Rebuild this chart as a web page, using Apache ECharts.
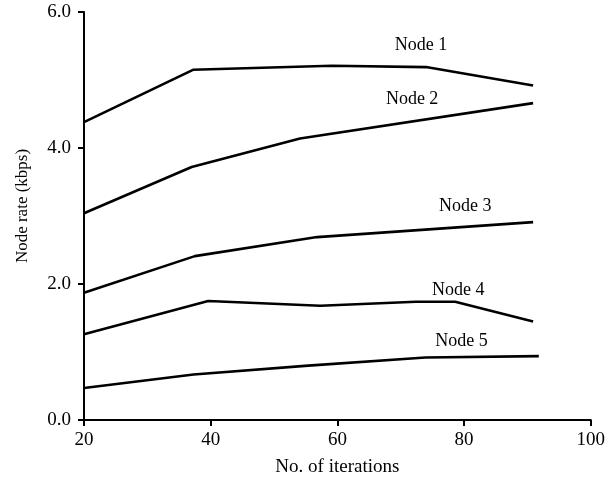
<!DOCTYPE html>
<html>
<head>
<meta charset="utf-8">
<script src="https://cdn.jsdelivr.net/npm/echarts@6/dist/echarts.min.js"></script>
<style>
  html, body { margin: 0; padding: 0; background: #fff; }
  #chart { width: 608px; height: 483px; }
</style>
</head>
<body>
<div id="chart"></div>
<script>
// Node rate per iteration count, one [iterations, kbps] list per node
const node1 = [[20, 4.38], [37.2, 5.15], [59.1, 5.21], [74.0, 5.19], [90.9, 4.92]];
const node2 = [[20, 3.04], [37.0, 3.72], [54.1, 4.14], [90.9, 4.66]];
const node3 = [[20, 1.87], [37.5, 2.41], [56.8, 2.69], [90.9, 2.91]];
const node4 = [[20, 1.26], [39.6, 1.75], [57.3, 1.68], [72.4, 1.74], [78.6, 1.74], [90.9, 1.45]];
const node5 = [[20, 0.47], [37.3, 0.67], [55.4, 0.80], [73.9, 0.92], [91.8, 0.94]];

const nodeNames = ['Node 1', 'Node 2', 'Node 3', 'Node 4', 'Node 5'];
// Where each node's name sits, in data units
const labelAt = [[73.2, 5.51], [71.8, 4.71], [80.2, 3.15], [79.1, 1.91], [79.6, 1.16]];

const xTicks = [20, 40, 60, 80, 100];
const yTicks = [0, 2, 4, 6];

const serif = '"Liberation Serif", "DejaVu Serif", serif';
const allNodes = [node1, node2, node3, node4, node5];

const chart = echarts.init(document.getElementById('chart'));
chart.setOption({
  animation: false,
  backgroundColor: '#fff',
  grid: { left: 84, right: 17, top: 12, bottom: 63 },
  xAxis: {
    type: 'value',
    min: xTicks[0], max: xTicks[xTicks.length - 1], interval: 20,
    name: 'No. of iterations',
    nameLocation: 'middle',
    nameGap: 38,
    nameTextStyle: { fontFamily: serif, fontSize: 19, color: '#000' },
    axisLine: { show: true, lineStyle: { color: '#000', width: 2 } },
    axisTick: { show: true, length: 6, lineStyle: { color: '#000', width: 2 } },
    axisLabel: { fontFamily: serif, fontSize: 19, color: '#000', margin: 11 },
    splitLine: { show: false }
  },
  yAxis: {
    type: 'value',
    min: yTicks[0], max: yTicks[yTicks.length - 1], interval: 2,
    name: 'Node rate (kbps)',
    nameLocation: 'middle',
    nameGap: 53,
    nameTextStyle: { fontFamily: serif, fontSize: 17, color: '#000', padding: [0, 0, 0, 20] },
    axisLine: { show: true, lineStyle: { color: '#000', width: 2 } },
    axisTick: { show: true, length: 6, lineStyle: { color: '#000', width: 2 } },
    axisLabel: {
      fontFamily: serif, fontSize: 19, color: '#000', margin: 13,
      formatter: v => v.toFixed(1)
    },
    splitLine: { show: false }
  },
  series: allNodes.map((d, i) => ({
    name: nodeNames[i],
    type: 'line',
    data: d,
    showSymbol: false,
    symbol: 'none',
    lineStyle: { color: '#000', width: 2.6 },
    markPoint: {
      symbol: 'circle',
      symbolSize: 0,
      data: [{
        coord: labelAt[i],
        label: {
          show: true,
          position: 'inside',
          formatter: nodeNames[i],
          fontFamily: serif, fontSize: 18, color: '#000'
        }
      }]
    }
  }))
});
</script>
</body>
</html>
